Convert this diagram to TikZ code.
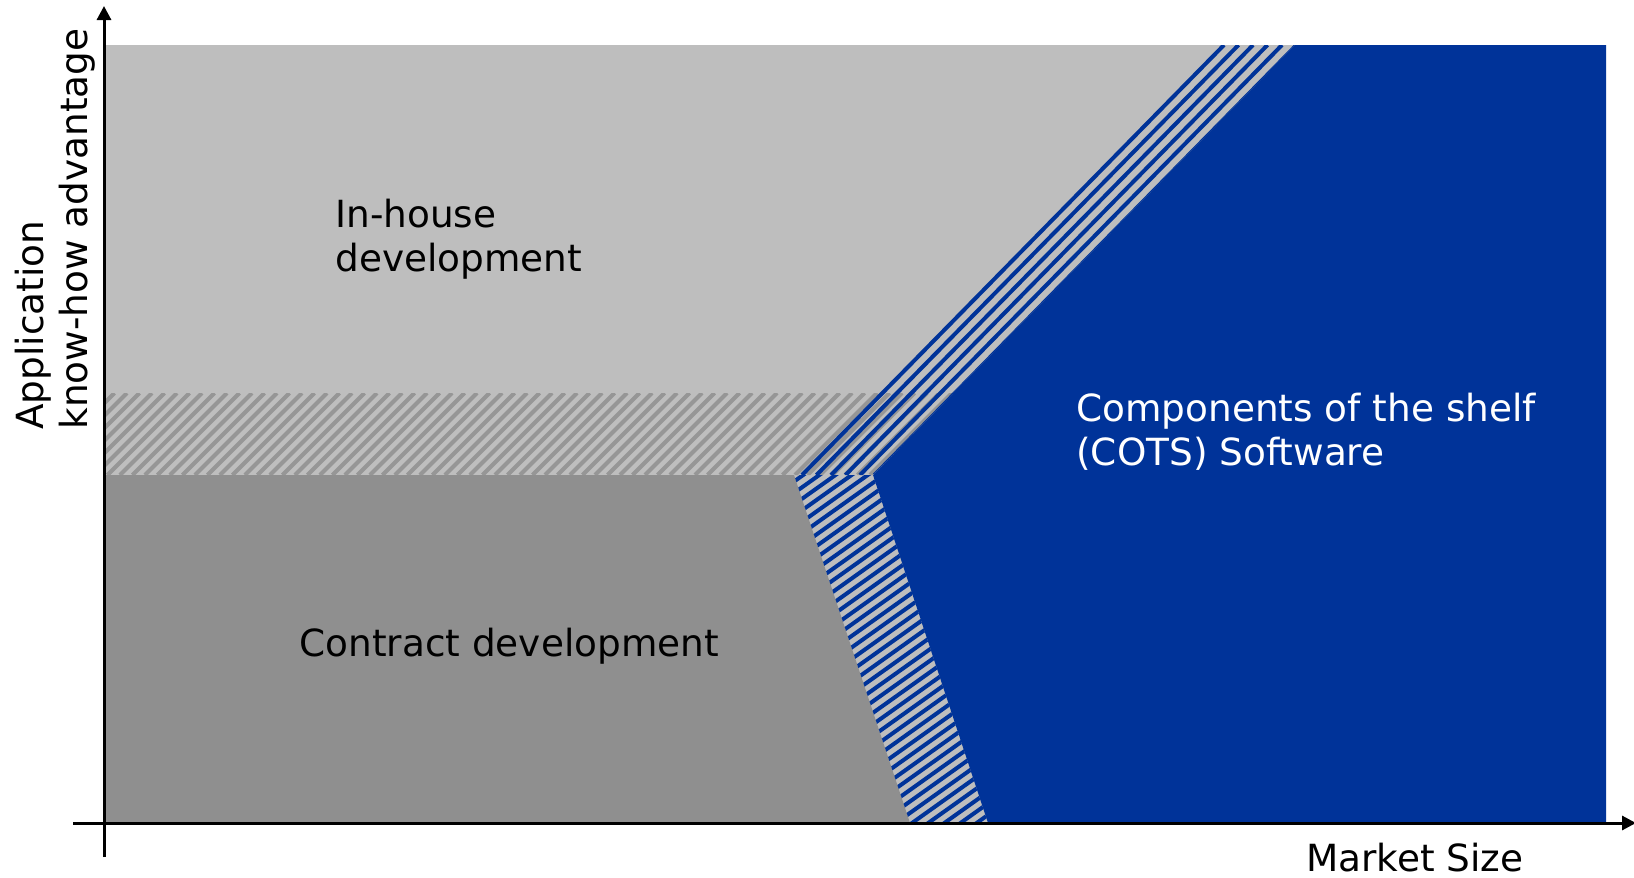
\documentclass[tikz,border=0pt]{standalone}
\usepackage{fontspec}
\setmainfont{DejaVu Sans}
\usetikzlibrary{arrows.meta}
\definecolor{lightgrey}{RGB}{190,190,190}
\definecolor{darkgrey}{RGB}{143,143,143}
\definecolor{hatchgrey}{RGB}{150,150,150}
\definecolor{cotsblue}{RGB}{0,51,153}
\tikzset{
  axis/.style={line width=1.5pt,-{Triangle[length=7pt,width=7pt]}},
  hatchline/.style={line width=2pt},
  regionlabel/.style={inner sep=0pt,align=left,font=\fontsize{18.7}{22.2}\selectfont},
}
\begin{document}
\begin{tikzpicture}[x=0.5pt,y=-0.5pt]
      \useasboundingbox (0,0) rectangle (1634,878);
      % regions
      \fill[lightgrey] (104,45) rectangle (1606,823);
      \fill[darkgrey] (104,475) -- (794,475) -- (910,823) -- (104,823) -- cycle;
      \fill[cotsblue] (873,475) -- (1295,45) -- (1606,45) -- (1606,823) -- (988,823) -- cycle;
      % grey hatching, in-house / contract
      \begin{scope}
        \clip (104,393) -- (953,393) -- (873,475) -- (104,475) -- cycle;
        \foreach \x in {20,32.5,...,960}{
          \draw[hatchline,hatchgrey] (\x,475) -- ++(82,-82);
        }
      \end{scope}
      % blue hatching, in-house / COTS
      \begin{scope}
        \clip (794,475) -- (873,475) -- (1295,45) -- (1216,45) -- cycle;
        \foreach \x in {802,816.5,...,875}{
          \draw[hatchline,cotsblue] (\x,475) -- ++(422,-430);
        }
      \end{scope}
      % blue hatching, contract / COTS
      \begin{scope}
        \clip (794,475) -- (873,475) -- (988,823) -- (910,823) -- cycle;
        \foreach \y in {480,491.5,...,1000}{
          \draw[hatchline,cotsblue] (780,\y) -- ++(250,-178);
        }
      \end{scope}
      % axes
      \coordinate (ybot) at (104,857);
      \coordinate (ytop) at (104,6);
      \coordinate (xleft) at (73,823);
      \coordinate (xright) at (1636,823);
      \draw[axis] (ybot) -- (ytop);
      \draw[axis] (xleft) -- (xright);
      % labels
      \node[regionlabel,anchor=west] (inhouse) at (335,239) {In-house\\development};
      \node[regionlabel,anchor=west] (contract) at (299,646) {Contract development};
      \node[regionlabel,anchor=west,white] (cots) at (1076,432) {Components of the shelf\\(COTS) Software};
      \node[regionlabel] (market) at (1415,858) {Market Size};
      \node[regionlabel,rotate=90,anchor=west] (knowhow) at (55,430) {Application\\know-how advantage};
    \end{tikzpicture}
\end{document}
